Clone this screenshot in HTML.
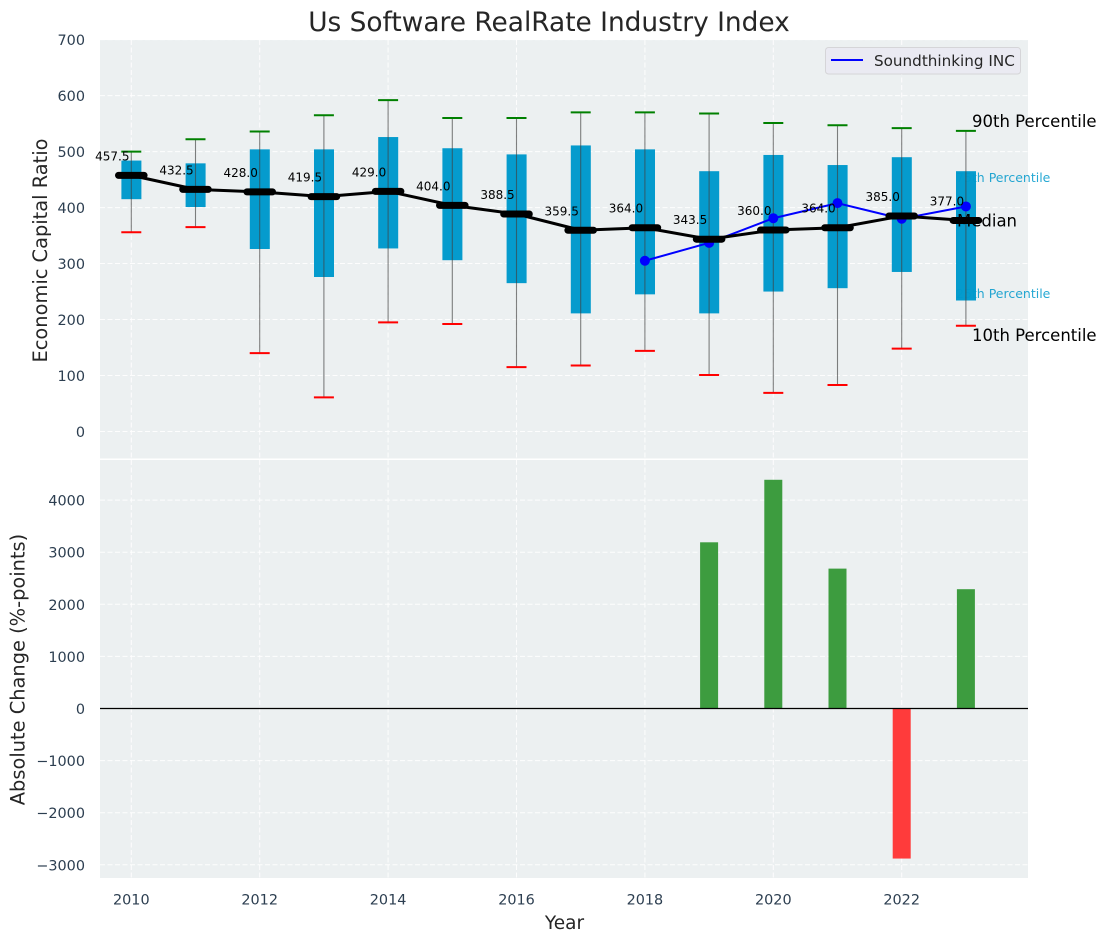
<!DOCTYPE html>
<html>
<head>
<meta charset="utf-8">
<title>Us Software RealRate Industry Index</title>
<style>
html,body{margin:0;padding:0;background:#fff;}
svg{display:block;font-family:"DejaVu Sans","Liberation Sans",sans-serif;}
</style>
</head>
<body>
<svg id="chart" width="1107" height="942" viewBox="0 0 1107 942" xmlns="http://www.w3.org/2000/svg"></svg>
<script>
const years = [2010,2011,2012,2013,2014,2015,2016,2017,2018,2019,2020,2021,2022,2023];
const p10 = [356,365,140,61,195,192,115,118,144,101,69,83,148,189];
const p25 = [415,401,326,276,327,306,265,211,245,211,250,256,285,234];
const medians = [457.5,432.5,428,419.5,429,404,388.5,359.5,364,343.5,360,364,385,377];
const p75 = [484,479,504,504,526,506,495,511,504,465,494,476,490,465];
const p90 = [500,522,536,565,592,560,560,570,570,568,551,547,542,537];
const companyYears = [2018,2019,2020,2021,2022,2023];
const companyValues = [305,337,381,408,380,402];
const changeYears = [2019,2020,2021,2022,2023];
const changeValues = [3190,4390,2685,-2880,2290];
const xTicks = [2010,2012,2014,2016,2018,2020,2022];
const topTicks = [0,100,200,300,400,500,600,700];
const bottomTicks = [-3000,-2000,-1000,0,1000,2000,3000,4000];

const NS = 'http://www.w3.org/2000/svg';
const svg = document.getElementById('chart');
const L = 100, R = 1028, T1 = 40, B1 = 458.5, T2 = 460, B2 = 878;
const xs = v => 131.3 + (v - 2010) * 64.2;
const y1 = v => 431.5 - v * 0.5598;
const y2 = v => 708.5 - v * 0.0521;

function el(tag, attrs, parent, text) {
  const e = document.createElementNS(NS, tag);
  for (const k in attrs) e.setAttribute(k, attrs[k]);
  if (text !== undefined) e.textContent = text;
  (parent || svg).appendChild(e);
  return e;
}
function label(e, name) {
  
  
  return e;
}
const tickCol = '#2c3e50', textCol = '#262626';

label(el('text', {x:549, y:31, 'text-anchor':'middle', 'font-size':26.4, fill:textCol}, svg, 'Us Software RealRate Industry Index'), 'chart-title');

label(el('rect', {x:L, y:T1, width:R-L, height:B1-T1, fill:'#ecf0f1'}), 'top-panel-background');
label(el('rect', {x:L, y:T2, width:R-L, height:B2-T2, fill:'#ecf0f1'}), 'bottom-panel-background');

const grid = {stroke:'#ffffff', 'stroke-width':1, 'stroke-dasharray':'5 2.5', opacity:0.9};
xTicks.forEach(t => {
  label(el('line', {x1:xs(t), x2:xs(t), y1:T1, y2:B1, ...grid}), 'top-x-gridline-' + t);
  label(el('line', {x1:xs(t), x2:xs(t), y1:T2, y2:B2, ...grid}), 'bottom-x-gridline-' + t);
  label(el('text', {x:xs(t), y:904.5, 'text-anchor':'middle', 'font-size':14.4, fill:tickCol}, svg, String(t)), 'x-tick-label-' + t);
});
topTicks.forEach(t => {
  label(el('line', {x1:L, x2:R, y1:y1(t), y2:y1(t), ...grid}), 'top-y-gridline-' + t);
  label(el('text', {x:85, y:y1(t)+5.5, 'text-anchor':'end', 'font-size':14.4, fill:tickCol}, svg, String(t)), 'top-y-tick-label-' + t);
});
bottomTicks.forEach(t => {
  label(el('line', {x1:L, x2:R, y1:y2(t), y2:y2(t), ...grid}), 'bottom-y-gridline-' + t);
  label(el('text', {x:85, y:y2(t)+5.5, 'text-anchor':'end', 'font-size':14.4, fill:tickCol}, svg, String(t).replace('-', '\u2212')), 'bottom-y-tick-label-' + t);
});

label(el('text', {x:47, y:250.5, 'text-anchor':'middle', 'font-size':19.4, fill:textCol, transform:'rotate(-90 47 250.5)'}, svg, 'Economic Capital Ratio'), 'top-y-axis-title');
label(el('text', {x:24.5, y:669.5, 'text-anchor':'middle', 'font-size':19.4, fill:textCol, transform:'rotate(-90 24.5 669.5)'}, svg, 'Absolute Change (%-points)'), 'bottom-y-axis-title');
label(el('text', {x:564.5, y:929, 'text-anchor':'middle', 'font-size':18.5, fill:textCol}, svg, 'Year'), 'x-axis-title');

/* text that sits behind the boxes */
label(el('text', {x:956, y:182, 'font-size':12.5, fill:'#0099cc', opacity:0.85}, svg, '75th Percentile'), 'annotation-75th-percentile');
label(el('text', {x:956, y:298, 'font-size':12.5, fill:'#0099cc', opacity:0.85}, svg, '25th Percentile'), 'annotation-25th-percentile');

years.forEach((yr, i) => {
  const x = xs(yr);
  label(el('rect', {x:x-9.9, y:y1(p75[i]), width:20, height:y1(p25[i])-y1(p75[i]), fill:'#0099cc', opacity:0.98}), 'iqr-box-' + yr);
  label(el('line', {x1:x, x2:x, y1:y1(p90[i]), y2:y1(p10[i]), stroke:'#404040', 'stroke-width':1.1, opacity:0.65}), 'whisker-' + yr);
  label(el('line', {x1:x-10, x2:x+10, y1:y1(p90[i]), y2:y1(p90[i]), stroke:'#008000', 'stroke-width':2}), 'p90-cap-' + yr);
  label(el('line', {x1:x-10, x2:x+10, y1:y1(p10[i]), y2:y1(p10[i]), stroke:'#ff0000', 'stroke-width':2}), 'p10-cap-' + yr);
});

label(el('text', {x:957, y:226.5, 'font-size':16.5, fill:'#000'}, svg, 'Median'), 'annotation-median');

label(el('polyline', {points:companyYears.map((yr,i)=>xs(yr)+','+y1(companyValues[i])).join(' '), fill:'none', stroke:'#0000ff', 'stroke-width':2}), 'company-line');
companyYears.forEach((yr,i) => {
  label(el('circle', {cx:xs(yr), cy:y1(companyValues[i]), r:5, fill:'#0000ff'}), 'company-point-' + yr);
});

label(el('polyline', {points:years.map((yr,i)=>xs(yr)+','+y1(medians[i])).join(' '), fill:'none', stroke:'#000', 'stroke-width':3}), 'median-line');
years.forEach((yr,i) => {
  label(el('line', {x1:xs(yr)-12.8, x2:xs(yr)+12.8, y1:y1(medians[i]), y2:y1(medians[i]), stroke:'#000', 'stroke-width':7, 'stroke-linecap':'round'}), 'median-marker-' + yr);
  label(el('text', {x:xs(yr)-19, y:y1(medians[i])-15, 'text-anchor':'middle', 'font-size':12, fill:'#000'}, svg, medians[i].toFixed(1)), 'median-value-' + yr);
});

label(el('text', {x:972, y:127, 'font-size':16.5, fill:'#000'}, svg, '90th Percentile'), 'annotation-90th-percentile');
label(el('text', {x:972, y:341, 'font-size':16.5, fill:'#000'}, svg, '10th Percentile'), 'annotation-10th-percentile');

changeYears.forEach((yr,i) => {
  const v = changeValues[i];
  const top = Math.min(y2(v), y2(0)), h = Math.abs(y2(v) - y2(0));
  label(el('rect', {x:xs(yr)-9, y:top, width:18, height:h, fill:v >= 0 ? '#3d9c3f' : '#ff3b3b'}), 'change-bar-' + yr);
});
label(el('line', {x1:L, x2:R, y1:y2(0), y2:y2(0), stroke:'#000', 'stroke-width':1.2}), 'zero-line');

const lg = label(el('g', {}), 'legend');
label(el('rect', {x:825.5, y:47.5, width:195, height:26.5, rx:3, fill:'#eaeaf2', stroke:'#d5d5d8', 'stroke-width':1}, lg), 'legend-frame');
label(el('line', {x1:831, x2:863, y1:60, y2:60, stroke:'#0000ff', 'stroke-width':2}, lg), 'legend-line-soundthinking');
label(el('text', {x:874, y:66, 'font-size':15.2, fill:textCol}, lg, 'Soundthinking INC'), 'legend-entry-soundthinking');
</script>
</body>
</html>
